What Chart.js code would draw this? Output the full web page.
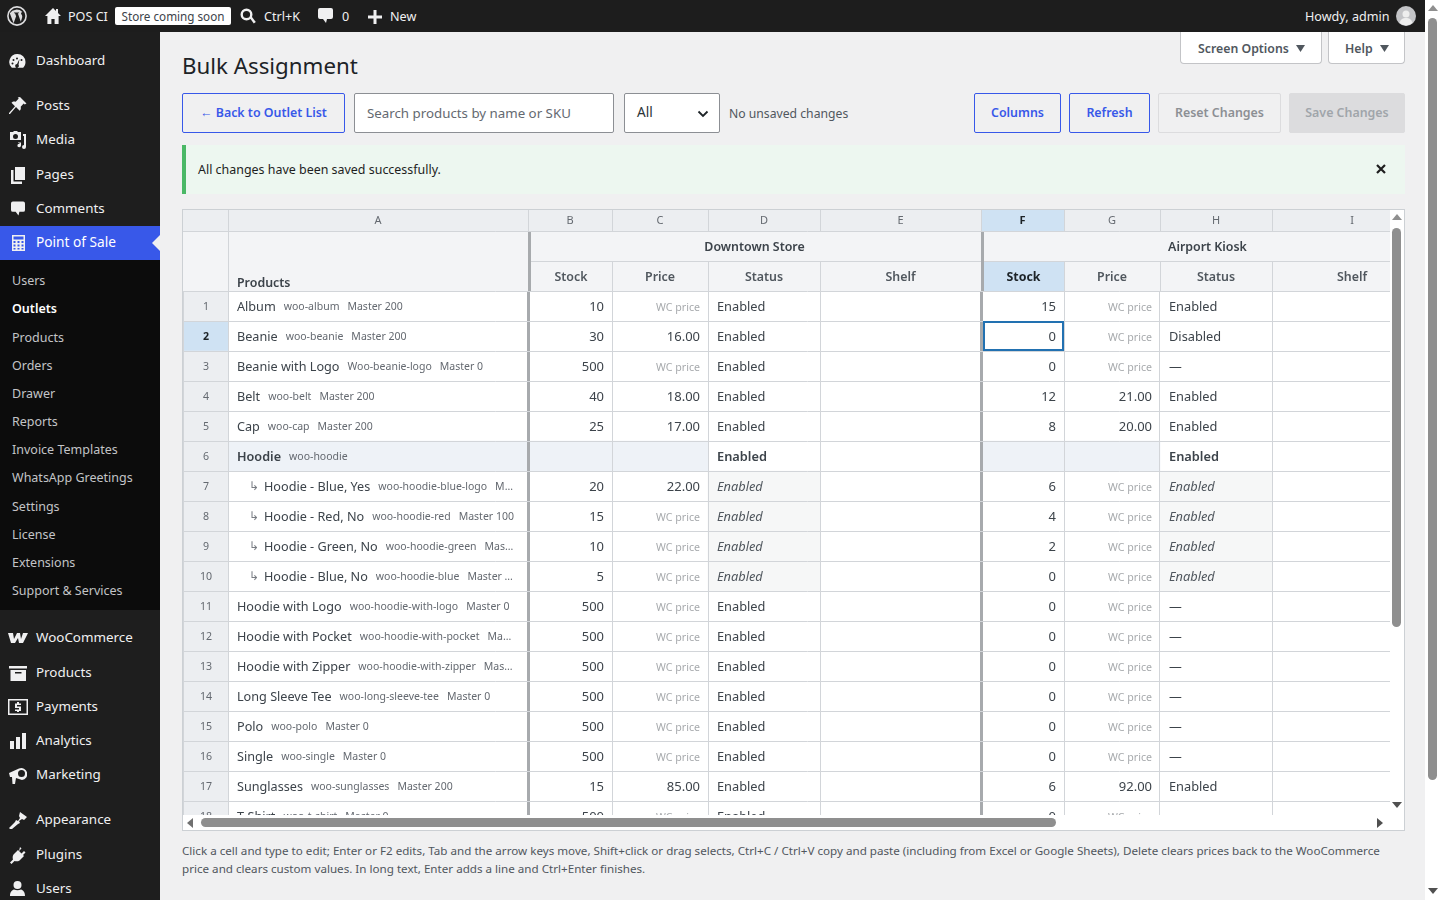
<!DOCTYPE html>
<html>
<head>
<meta charset="utf-8">
<title>Bulk Assignment</title>
<script src="https://cdn.jsdelivr.net/npm/chart.js@4/dist/chart.umd.min.js"></script>
<style>
html,body{margin:0;padding:0;width:1440px;height:900px;overflow:hidden;background:#f0f0f1;font-family:"Noto Sans",sans-serif;font-size:13px;color:#3c434a}
.a{position:absolute;white-space:nowrap}
#bar{left:0;top:0;width:1425px;height:32px;background:#1d1d1d}
#side{left:0;top:32px;width:160px;height:868px;background:#1e1e1e}
#sub{left:0;top:260px;width:160px;height:350px;background:#0c0c0c}
#pos{left:0;top:226px;width:160px;height:34px;background:#3858e9}
.m{position:absolute;left:36px;margin-top:-1px;color:#f0f0f1;font-size:13.4px;line-height:20px;white-space:nowrap}
.s{position:absolute;left:12px;color:#c3c4c7;font-size:12.5px;line-height:18px;white-space:nowrap}
.t{position:absolute;top:7px;color:#f0f0f1;font-size:12.6px;line-height:20px;white-space:nowrap}
svg{position:absolute;fill:#f0f0f1}
.b{position:absolute;box-sizing:border-box;top:93px;height:40px;border:1px solid #3858e9;border-radius:2px;color:#3858e9;font-weight:600;font-size:12.4px;line-height:37px;text-align:center;white-space:nowrap}
.tab{position:absolute;box-sizing:border-box;top:32px;height:32px;background:#fff;border:1px solid #c3c4c7;border-top:0;border-radius:0 0 4px 4px;color:#50575e;font-weight:600;font-size:12.3px;line-height:33px;white-space:nowrap}
</style>
</head>
<body>
<div class="a" id="bar"></div>
<svg style="left:7px;top:6px" width="20" height="20" viewBox="0 0 20 20"><circle cx="10" cy="10" r="9.100" fill="none" stroke="#dcdcde" stroke-width="1.600"/><path fill="#dcdcde" d="M2.800 7.200l3.800 10 2.500-7-1.100-3H7V6.400h5v.8h-1.200l3 8.600 1.200-3.900c.7-2.300-.3-2.900-.8-3.900-.4-.8.1-1.900 1.200-2A8.200 8.200 0 0 0 2.800 7.200z"/></svg>
<svg style="left:44px;top:7px" width="18" height="18" viewBox="0 0 18 18"><path d="M9 1L1 9h2.400v8h4v-5h3.200v5h4V9H17l-3-3V2h-2v2z"/></svg>
<div class="t" style="left:68px">POS CI</div>
<div class="a" style="left:115px;top:7px;width:116px;height:18px;background:#fff;border-radius:2px;color:#3c434a;font-size:11.7px;line-height:18px;text-align:center">Store coming soon</div>
<svg style="left:240px;top:8px" width="16" height="17" viewBox="0 0 16 17"><circle cx="6.500" cy="6.500" r="4.800" fill="none" stroke="#f0f0f1" stroke-width="2.400"/><path d="M9.800 10l1.800-1.500 4.200 5.400-2 1.600z"/></svg>
<div class="t" style="left:264px">Ctrl+K</div>
<svg style="left:318px;top:8px" width="15" height="16" viewBox="0 0 15 16"><path d="M2 0h11a2 2 0 0 1 2 2v7a2 2 0 0 1-2 2H9l-1 4-3-4H2a2 2 0 0 1-2-2V2a2 2 0 0 1 2-2z"/></svg>
<div class="t" style="left:342px">0</div>
<svg style="left:368px;top:10px" width="14" height="14" viewBox="0 0 14 14"><path d="M5.500 0h3v5.500H14v3H8.500V14h-3V8.500H0v-3h5.500z"/></svg>
<div class="t" style="left:390px">New</div>
<div class="t" style="left:1305px">Howdy, admin</div>
<svg style="left:1396px;top:6px" width="20" height="20" viewBox="0 0 20 20"><circle cx="10" cy="10" r="10" fill="#c3c4c7"/><circle cx="10" cy="8" r="3.500" fill="#eee"/><path fill="#eee" d="M3.500 17c1-4 3.500-5 6.500-5s5.500 1 6.500 5a10 10 0 0 1-13 0z"/></svg>

<div class="a" id="side"></div>
<div class="a" id="sub"></div>
<div class="a" id="pos"></div>
<svg style="left:152px;top:235px" width="8" height="16" viewBox="0 0 8 16"><path fill="#f0f0f1" d="M8 0v16L0 8z"/></svg>

<svg style="left:9px;top:53px" width="17" height="16" viewBox="0 0 17 16"><path fill-rule="evenodd" d="M8.500 1a8 8 0 0 1 8 8c0 2.300-.9 4.300-2.300 5.800H2.800A8 8 0 0 1 8.500 1zM8 4.500a1 1 0 1 0 1 1 1 1 0 0 0-1-1zM4.500 6a1 1 0 1 0 1 1 1 1 0 0 0-1-1zM12.500 6a1 1 0 1 0 1 1 1 1 0 0 0-1-1zM3.500 9.500a1 1 0 1 0 1 1 1 1 0 0 0-1-1zM10.500 6L8 11a1.800 1.800 0 1 0 1.500.8z"/></svg>
<div class="m" style="top:51px">Dashboard</div>
<svg style="left:9px;top:97px" width="18" height="18" viewBox="0 0 18 18"><path d="M11 0l6.500 6.500-1.800 1-1-1-3 3.200c.5 2-.1 3.200-1 4L7 10 1 17H0v-1l6-6.800-3.500-3.500c1-1 2.200-1.400 4.200-1l3-3.100-1-1z"/></svg>
<div class="m" style="top:96px">Posts</div>
<svg style="left:9px;top:131px" width="18" height="18" viewBox="0 0 18 18"><path fill-rule="evenodd" d="M1 1h3l1-1h3l1 1h3v8H1zM6.500 3a2.500 2.500 0 1 0 0 5 2.500 2.500 0 0 0 0-5zM14 3h3v13a2 2 0 1 1-2-2V5h-1zM9 11.500h3v3a1.800 1.800 0 1 1-1.500-1.800V12H9z"/></svg>
<div class="m" style="top:130px">Media</div>
<svg style="left:11px;top:167px" width="14" height="17" viewBox="0 0 14 17"><path d="M4 0h10v13H4zM0 3h2.500v11.500H11V17H0z"/></svg>
<div class="m" style="top:165px">Pages</div>
<svg style="left:11px;top:201px" width="14" height="16" viewBox="0 0 15 16"><path d="M2 0h11a2 2 0 0 1 2 2v7a2 2 0 0 1-2 2H9l-1 4-3-4H2a2 2 0 0 1-2-2V2a2 2 0 0 1 2-2z"/></svg>
<div class="m" style="top:199px">Comments</div>
<svg style="left:12px;top:235px" width="13" height="16" viewBox="0 0 13 16"><path fill-rule="evenodd" d="M0 0h13v16H0zM1.500 1.500v3h10v-3zM1.500 6v2h2V6zM5.500 6v2h2V6zM9.500 6v2h2V6zM1.500 9.500v2h2v-2zM5.500 9.500v2h2v-2zM9.500 9.500v2h2v-2zM1.500 13v1.500h2V13zM5.500 13v1.500h2V13zM9.500 13v1.500h2V13z"/></svg>
<div class="m" style="top:233px;color:#fff;font-size:13.7px">Point of Sale</div>

<div class="s" style="top:272px">Users</div>
<div class="s" style="top:300px;color:#fff;font-weight:600">Outlets</div>
<div class="s" style="top:329px">Products</div>
<div class="s" style="top:357px">Orders</div>
<div class="s" style="top:385px">Drawer</div>
<div class="s" style="top:413px">Reports</div>
<div class="s" style="top:441px">Invoice Templates</div>
<div class="s" style="top:469px">WhatsApp Greetings</div>
<div class="s" style="top:498px">Settings</div>
<div class="s" style="top:526px">License</div>
<div class="s" style="top:554px">Extensions</div>
<div class="s" style="top:582px">Support &amp; Services</div>

<svg style="left:8px;top:632px" width="20" height="12" viewBox="0 0 20 12"><path d="M0 1h5l1 6 3-6h3l1 6 2-6h5l-5 10h-4l-1-5-3 5H3z"/></svg>
<div class="m" style="top:628px">WooCommerce</div>
<svg style="left:9px;top:666px" width="18" height="15" viewBox="0 0 18 15"><path d="M0 0h18v2.500H0zM1.500 4H17v11H1.500zM6 6v1.500h6.500V6z" fill-rule="evenodd"/></svg>
<div class="m" style="top:663px">Products</div>
<svg style="left:8px;top:699px" width="20" height="16" viewBox="0 0 20 16"><path fill-rule="evenodd" d="M0 0h20v16H0zM1.500 1.500v13h17v-13zM9 3h2v1.500h2V6H9v1.500h4V12h-2v1H9v-1H7v-1.500h4V9H7V4.500h2z"/></svg>
<div class="m" style="top:697px">Payments</div>
<svg style="left:10px;top:733px" width="16" height="16" viewBox="0 0 16 16"><path d="M0 8h4v8H0zM6 4h4v12H6zM12 0h4v16h-4z"/></svg>
<div class="m" style="top:731px">Analytics</div>
<svg style="left:9px;top:767px" width="18" height="17" viewBox="0 0 18 17"><path fill-rule="evenodd" d="M0 6l10-4.500A6 6 0 1 1 13 13l-6-2-1 6H3.500L3 10H1zM12.500 3a3.500 3.500 0 1 0 0 7 3.500 3.500 0 0 0 0-7z"/></svg>
<div class="m" style="top:765px">Marketing</div>
<svg style="left:9px;top:812px" width="18" height="17" viewBox="0 0 18 17"><path d="M11 0l7 5-3 3-2-1-3 2 1 2-2 1-6 5H1l-1-1 6-6 1-2 2 1 2-3-1-2z"/></svg>
<div class="m" style="top:810px">Appearance</div>
<svg style="left:10px;top:847px" width="16" height="17" viewBox="0 0 16 17"><path d="M10 0l1.500 1.500L9 4l2.500 2.500L14 4l1.500 1.500-2.500 2.500 1 1-4.500 4.500c-1.500 1-3.500 1-5 .5L1.500 17 0 15.500l3-3c-.5-1.500-.5-3.500.5-5L8 3l1 1z"/></svg>
<div class="m" style="top:845px">Plugins</div>
<svg style="left:10px;top:881px" width="15" height="16" viewBox="0 0 15 16"><circle cx="7.500" cy="4" r="4"/><path d="M0 15c0-4 2-6 4-6.500 2 1 5 1 7 0 2 .5 4 2.500 4 6.500z"/></svg>
<div class="m" style="top:879px">Users</div>

<div class="tab" style="left:1180px;width:142px;padding-left:17px">Screen Options</div>
<svg style="left:1296px;top:45px" width="9" height="7" viewBox="0 0 9 7"><path fill="#50575e" d="M0 0h9L4.500 7z"/></svg>
<div class="tab" style="left:1328px;width:77px;padding-left:16px">Help</div>
<svg style="left:1380px;top:45px" width="9" height="7" viewBox="0 0 9 7"><path fill="#50575e" d="M0 0h9L4.500 7z"/></svg>
<div class="a" style="left:182px;top:50px;font-size:22.3px;line-height:32px;color:#1d2327">Bulk Assignment</div>

<div class="b" style="left:182px;width:163px">← Back to Outlet List</div>
<div class="a" style="left:354px;top:93px;box-sizing:border-box;width:260px;height:40px;background:#fff;border:1px solid #8c8f94;border-radius:2px;padding-left:12px;font-size:13.3px;line-height:38px;color:#646970">Search products by name or SKU</div>
<div class="a" style="left:624px;top:93px;box-sizing:border-box;width:96px;height:40px;background:#fff;border:1px solid #8c8f94;border-radius:2px;padding-left:12px;font-size:13.6px;line-height:36px;color:#2c3338">All</div>
<svg style="left:697px;top:110px" width="12" height="8" viewBox="0 0 12 8"><path fill="none" stroke="#1d2327" stroke-width="1.800" d="M1.500 1.500L6 6l4.500-4.500"/></svg>
<div class="a" style="left:729px;top:104px;font-size:12.2px;line-height:20px;color:#50575e">No unsaved changes</div>
<div class="b" style="left:974px;width:87px">Columns</div>
<div class="b" style="left:1069px;width:81px">Refresh</div>
<div class="b" style="left:1158px;width:123px;border-color:#dcdcde;color:#8c8f94">Reset Changes</div>
<div class="b" style="left:1289px;width:116px;border-color:#dcdcde;background:#dcdcde;color:#a0a5aa">Save Changes</div>

<div class="a" style="left:182px;top:145px;box-sizing:border-box;width:1223px;height:49px;background:#edf7f0;border-left:4px solid #4ab866;padding-left:12px;font-size:12.45px;line-height:49px;color:#1e1e1e">All changes have been saved successfully.</div>
<svg style="left:1376px;top:164px" width="10" height="10" viewBox="0 0 10 10"><path stroke="#1e1e1e" stroke-width="2.200" d="M1 1l8 8M9 1L1 9"/></svg>

<!-- grid box: canvas scrolls inside like the real sheet -->
<div class="a" style="left:182px;top:209px;box-sizing:border-box;width:1223px;height:622px;background:#fff;border:1px solid #ccd0d4"></div>
<div class="a" style="left:183px;top:210px;width:1207px;height:605px;overflow:hidden"><canvas id="sheet" width="1249" height="621" style="display:block"></canvas></div>
<div class="a" style="left:1392px;top:228px;width:9px;height:399px;background:#8f8f8f;border-radius:5px"></div>
<div class="a" style="left:201px;top:818px;width:855px;height:9px;background:#8f8f8f;border-radius:5px"></div>
<svg style="left:1392px;top:214px" width="10" height="6" viewBox="0 0 10 6"><path fill="#8f8f8f" d="M5 0l5 6H0z"/></svg>
<svg style="left:1392px;top:802px" width="10" height="6" viewBox="0 0 10 6"><path fill="#505050" d="M5 6L0 0h10z"/></svg>
<svg style="left:187px;top:818px" width="6" height="10" viewBox="0 0 6 10"><path fill="#707070" d="M0 5l6-5v10z"/></svg>
<svg style="left:1377px;top:818px" width="6" height="10" viewBox="0 0 6 10"><path fill="#505050" d="M6 5L0 0v10z"/></svg>

<div class="a" style="left:182px;top:842px;width:1223px;white-space:normal;font-size:11.63px;line-height:18px;color:#50575e">Click a cell and type to edit; Enter or F2 edits, Tab and the arrow keys move, Shift+click or drag selects, Ctrl+C / Ctrl+V copy and paste (including from Excel or Google Sheets), Delete clears prices back to the WooCommerce price and clears custom values. In long text, Enter adds a line and Ctrl+Enter finishes.</div>

<div class="a" style="left:1425px;top:0;width:15px;height:900px;background:#fff"></div>
<div class="a" style="left:1428px;top:18px;width:9px;height:762px;background:#8f8f8f;border-radius:5px"></div>
<svg style="left:1428px;top:5px" width="10" height="6" viewBox="0 0 10 6"><path fill="#8f8f8f" d="M5 0l5 6H0z"/></svg>
<svg style="left:1428px;top:888px" width="10" height="6" viewBox="0 0 10 6"><path fill="#505050" d="M5 6L0 0h10z"/></svg>

<script>
const rowNumbers = ['1','2','3','4','5','6','7','8','9','10','11','12','13','14','15','16','17','18'];
const products = ['Album','Beanie','Beanie with Logo','Belt','Cap','Hoodie','Hoodie - Blue, Yes','Hoodie - Red, No','Hoodie - Green, No','Hoodie - Blue, No','Hoodie with Logo','Hoodie with Pocket','Hoodie with Zipper','Long Sleeve Tee','Polo','Single','Sunglasses','T-Shirt'];
const skus = ['woo-album','woo-beanie','Woo-beanie-logo','woo-belt','woo-cap','woo-hoodie','woo-hoodie-blue-logo','woo-hoodie-red','woo-hoodie-green','woo-hoodie-blue','woo-hoodie-with-logo','woo-hoodie-with-pocket','woo-hoodie-with-zipper','woo-long-sleeve-tee','woo-polo','woo-single','woo-sunglasses','woo-t-shirt'];
const masters = ['Master 200','Master 200','Master 0','Master 200','Master 200','','M…','Master 100','Mas…','Master …','Master 0','Ma…','Mas…','Master 0','Master 0','Master 0','Master 200','Master 0'];
const stockDowntown = ['10','30','500','40','25','','20','15','10','5','500','500','500','500','500','500','15','500'];
const priceDowntown = ['WC price','16.00','WC price','18.00','17.00','','22.00','WC price','WC price','WC price','WC price','WC price','WC price','WC price','WC price','WC price','85.00','WC price'];
const statusDowntown = ['Enabled','Enabled','Enabled','Enabled','Enabled','Enabled','Enabled','Enabled','Enabled','Enabled','Enabled','Enabled','Enabled','Enabled','Enabled','Enabled','Enabled','Enabled'];
const stockKiosk = ['15','0','0','12','8','','6','4','2','0','0','0','0','0','0','0','6','0'];
const priceKiosk = ['WC price','WC price','WC price','21.00','20.00','','WC price','WC price','WC price','WC price','WC price','WC price','WC price','WC price','WC price','WC price','92.00','WC price'];
const statusKiosk = ['Enabled','Disabled','—','Enabled','Enabled','Enabled','Enabled','Enabled','Enabled','Enabled','—','—','—','—','—','—','Enabled','—'];
const columnLetters = ['A','B','C','D','E','F','G','H','I'];
const storeNames = ['Downtown Store','Airport Kiosk'];
const subHeads = ['Stock','Price','Status','Shelf'];
const parentRows = [5];
const variationRows = [6,7,8,9];
const selectedRow = 1;

// column edges in sheet pixels, first is the row number gutter
const edges = [0,45,345,429,525,637,798,881,977,1089,1249];
const FONT = '"Noto Sans", sans-serif';
const LINE = '#d2d5d9';

function span(from, to, rows, color) {
    return {
        data: rowNumbers.map((_, i) => rows.includes(i) ? [edges[from], edges[to]] : null),
        backgroundColor: color,
        barPercentage: 1,
        categoryPercentage: 1,
        borderWidth: 0,
        grouped: false,
    };
}

const allRows = rowNumbers.map((_, i) => i);
const datasets = [
    span(0, 1, allRows.filter(i => i !== selectedRow), '#eceef1'),
    span(0, 1, [selectedRow], '#cfe2f3'),
    span(1, 4, parentRows, '#eef2f7'),
    span(6, 8, parentRows, '#eef2f7'),
    span(4, 5, variationRows, '#f6f7f7'),
    span(8, 9, variationRows, '#f6f7f7'),
];

const sheetText = {
    id: 'sheetText',
    afterDraw(chart) {
        const c = chart.ctx;
        const x = chart.scales.x;
        const y = chart.scales.y;
        const px = v => x.getPixelForValue(v);
        const text = (s, tx, ty, font, color, align) => {
            if (!s) return 0;
            c.font = font + ' ' + FONT;
            c.fillStyle = color;
            c.textAlign = align || 'left';
            c.textBaseline = 'middle';
            c.fillText(s, tx, ty);
            return c.measureText(s).width;
        };

        // header rows
        c.fillStyle = '#eceef1';
        c.fillRect(0, 0, chart.width, 21);
        c.fillStyle = '#f3f4f6';
        c.fillRect(0, 21, chart.width, 60);
        c.fillStyle = '#cfe2f3';
        c.fillRect(px(edges[6]), 0, px(edges[7]) - px(edges[6]), 21);
        c.fillRect(px(edges[6]), 52, px(edges[7]) - px(edges[6]), 29);
        c.strokeStyle = LINE;
        c.lineWidth = 1;
        c.beginPath();
        c.moveTo(0, 21.5); c.lineTo(chart.width, 21.5);
        c.moveTo(px(edges[2]), 51.5); c.lineTo(chart.width, 51.5);
        edges.slice(1).forEach((e, i) => {
            c.moveTo(px(e) + 0.5, 0);
            c.lineTo(px(e) + 0.5, i === 0 ? 81 : 21);
            if (i > 1 && i !== 5) { c.moveTo(px(e) + 0.5, 52); c.lineTo(px(e) + 0.5, 81); }
        });
        c.stroke();
        c.fillStyle = '#a7aaad';
        [edges[2], edges[6]].forEach(e => c.fillRect(px(e), 22, 3, 59));

        columnLetters.forEach((l, i) => {
            const active = i === 5;
            text(l, (px(edges[i + 1]) + px(edges[i + 2])) / 2, 10.5, (active ? 'bold ' : '') + '11px', active ? '#1d2327' : '#646970', 'center');
        });
        text('Products', px(edges[1]) + 9, 73, '600 12.4px', '#3c434a');
        text(storeNames[0], (px(edges[2]) + px(edges[6])) / 2, 37.5, '600 12.4px', '#3c434a', 'center');
        text(storeNames[1], (px(edges[6]) + px(edges[10])) / 2 + 1, 37.5, '600 12.4px', '#3c434a', 'center');
        [2, 6].forEach(start => subHeads.forEach((h, i) => {
            const active = start === 6 && i === 0;
            text(h, (px(edges[start + i]) + px(edges[start + i + 1])) / 2 + (i === 0 ? 1 : 0), 67.5, active ? 'bold 12.4px' : '600 12.4px', active ? '#1d2327' : '#50575e', 'center');
        }));

        // body rows
        rowNumbers.forEach((n, i) => {
            const ry = y.getPixelForValue(i) + 1;
            const parent = parentRows.includes(i);
            const variation = variationRows.includes(i);
            const sel = i === selectedRow;
            text(n, px(edges[1]) / 2 + 0.5, ry - 0.5, (sel ? 'bold ' : '') + '10.6px', sel ? '#1d2327' : '#646970', 'center');

            let tx = px(edges[1]) + 9;
            if (variation) {
                text('↳', tx + 12, ry, '12px', '#787c82');
                tx += 27;
            }
            tx += text(products[i], tx, ry, (parent ? '600 ' : '') + '12.65px', '#3c434a') + 8;
            tx += text(skus[i], tx, ry + 0.5, '10.5px', '#646970') + 8;
            text(masters[i], tx, ry + 0.5, '10.5px', '#646970');

            [[stockDowntown, priceDowntown, statusDowntown, 2], [stockKiosk, priceKiosk, statusKiosk, 6]].forEach(([stock, price, status, e]) => {
                text(stock[i], px(edges[e + 1]) - 8, ry, '13px', '#3c434a', 'right');
                const wc = price[i] === 'WC price';
                text(price[i], px(edges[e + 2]) - 8, ry + (wc ? 0.5 : 0), wc ? '10.6px' : '13px', wc ? '#a7aaad' : '#3c434a', 'right');
                const font = parent ? '600 12.8px' : variation ? 'italic 12.8px' : '12.8px';
                text(status[i], px(edges[e + 2]) + 9, ry, font, variation ? '#50575e' : '#3c434a');
            });
        });

        // active cell F2
        const top = y.getPixelForValue(selectedRow) - 14;
        c.strokeStyle = '#2271b1';
        c.lineWidth = 2;
        c.strokeRect(px(edges[6]) + 3, top, px(edges[7]) - px(edges[6]) - 4, 28);
    },
};

new Chart(document.getElementById('sheet'), {
    type: 'bar',
    data: { labels: rowNumbers, datasets },
    plugins: [sheetText],
    options: {
        indexAxis: 'y',
        responsive: false,
        animation: false,
        devicePixelRatio: 1,
        layout: { padding: { top: 81, left: 0, right: 0, bottom: 0 } },
        plugins: { legend: { display: false }, tooltip: { enabled: false } },
        scales: {
            x: {
                type: 'linear',
                min: 0,
                max: edges[edges.length - 1],
                afterBuildTicks: axis => { axis.ticks = edges.map(value => ({ value })); },
                ticks: { display: false },
                border: { display: false },
                grid: {
                    z: 1,
                    color: ctx => (ctx.tick && (ctx.tick.value === edges[2] || ctx.tick.value === edges[6])) ? '#a7aaad' : LINE,
                    lineWidth: ctx => (ctx.tick && (ctx.tick.value === edges[2] || ctx.tick.value === edges[6])) ? 3 : 1,
                    drawTicks: false,
                },
            },
            y: {
                type: 'category',
                ticks: { display: false },
                border: { display: false },
                grid: { z: 1, color: LINE, drawTicks: false, offset: true },
            },
        },
    },
});
</script>
</body>
</html>
